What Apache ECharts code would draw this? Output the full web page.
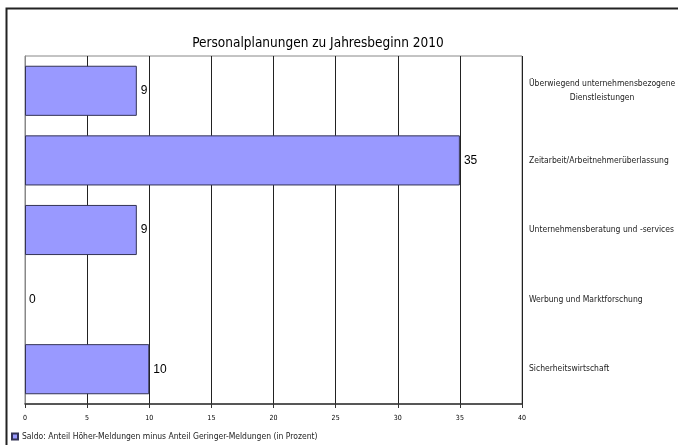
<!DOCTYPE html>
<html>
<head>
<meta charset="utf-8">
<script src="https://cdn.jsdelivr.net/npm/echarts@6/dist/echarts.min.js"></script>
<style>html,body{margin:0;padding:0;background:#fff;overflow:hidden;}#c{width:678px;height:445px;}</style>
</head>
<body>
<div id="c"></div>
<script>
const titleText = 'Personalplanungen zu Jahresbeginn 2010';
const categories = [
  'Überwiegend unternehmensbezogene\nDienstleistungen',
  'Zeitarbeit/Arbeitnehmerüberlassung',
  'Unternehmensberatung und -services',
  'Werbung und Marktforschung',
  'Sicherheitswirtschaft'
];
const values = [9, 35, 9, 0, 10];
const seriesName = 'Saldo: Anteil Höher-Meldungen minus Anteil Geringer-Meldungen (in Prozent)';
const xMin = 0, xMax = 40, xStep = 5;

const narrow = "'Liberation Sans Narrow', 'DejaVu Sans Condensed', sans-serif";
const chart = echarts.init(document.getElementById('c'), null, {renderer: 'canvas', width: 678, height: 445});
chart.setOption({
  animation: false,
  backgroundColor: '#fff',
  graphic: [{
    type: 'rect', silent: true, z: -1,
    shape: {x: 6.5, y: 8.5, width: 800, height: 600},
    style: {fill: 'none', stroke: '#222', lineWidth: 2}
  }],
  title: {
    text: titleText, left: 313, top: 31, textAlign: 'center',
    textStyle: {fontFamily: "'DejaVu Sans Condensed', sans-serif", fontSize: 13.5, fontWeight: 'normal', color: '#000'}
  },
  legend: {
    left: 6, top: 427, icon: 'rect', itemWidth: 6, itemHeight: 6, itemGap: 4,
    textStyle: {fontFamily: narrow, fontSize: 8.5, color: '#222', padding: [0,0,0,-1]},
    data: [seriesName]
  },
  grid: {left: 25, right: 156, top: 56, bottom: 41, show: true, borderColor: '#888', borderWidth: 1,
         containLabel: false, outerBoundsMode: 'none'},
  xAxis: {
    type: 'value', min: xMin, max: xMax, interval: xStep,
    axisLine: {show: true, lineStyle: {color: '#333', width: 1.5}},
    axisTick: {show: true, length: 4, lineStyle: {color: '#333'}},
    splitLine: {show: true, lineStyle: {color: '#222', width: 1}},
    axisLabel: {fontFamily: narrow, fontSize: 7, color: '#000', margin: 11}
  },
  yAxis: {
    type: 'category', data: categories, inverse: true, position: 'right',
    axisLine: {show: true, lineStyle: {color: '#888'}},
    axisTick: {show: false},
    splitLine: {show: false},
    axisLabel: {
      margin: 7, align: 'left', fontFamily: narrow, fontSize: 8.5, color: '#222', lineHeight: 14,
      formatter: function (v) {
        if (v.indexOf('\n') >= 0) {
          return v.split('\n').map(function (s) { return '{c|' + s + '}'; }).join('\n');
        }
        return v;
      },
      rich: {c: {align: 'center', fontFamily: narrow, fontSize: 8.5, color: '#222', lineHeight: 14}}
    }
  },
  series: [{
    name: seriesName, type: 'bar', barCategoryGap: '28%',
    data: values.map(function (v) { return v === 0 ? {value: v, itemStyle: {borderWidth: 0}} : v; }),
    itemStyle: {color: '#9999ff', borderColor: '#333355', borderWidth: 1},
    label: {show: true, position: 'right', distance: 4, fontFamily: "'Liberation Sans', Arial, sans-serif", fontSize: 12, color: '#000'}
  }]
});
</script>
</body>
</html>
